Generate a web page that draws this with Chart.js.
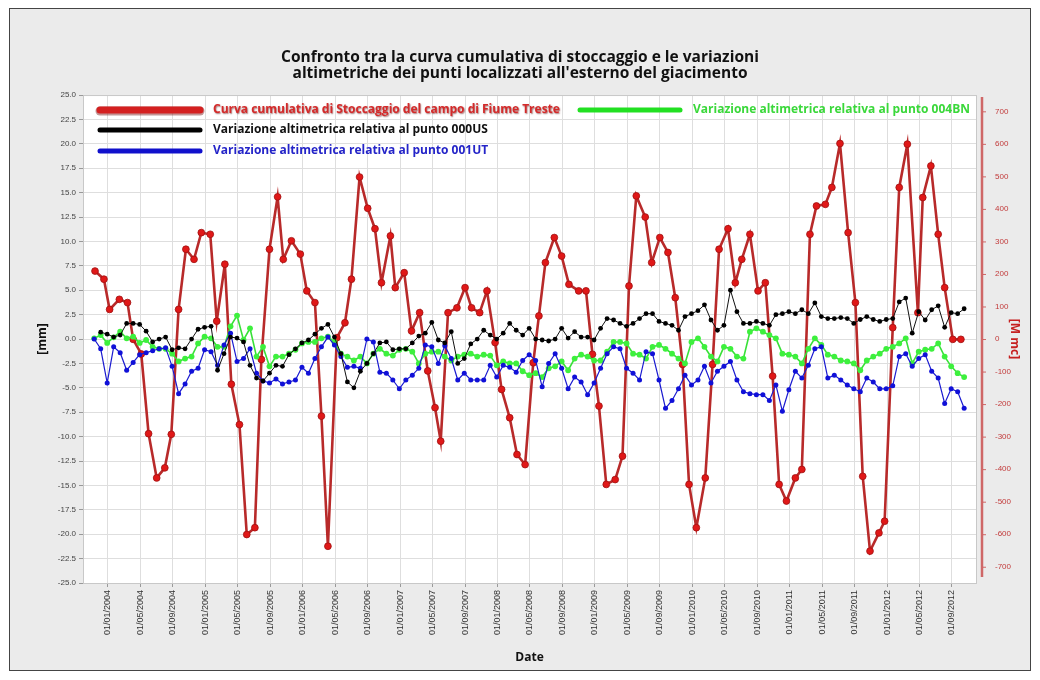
<!DOCTYPE html>
<html>
<head>
<meta charset="utf-8">
<script src="https://cdn.jsdelivr.net/npm/chart.js@4.4.1/dist/chart.umd.min.js"></script>
<style>
html,body{margin:0;padding:0;background:#fff;}
#wrap{width:1040px;height:680px;}
</style>
</head>
<body>
<div id="wrap"><canvas id="c" width="1040" height="680"></canvas></div>
<script>
// ---------- DATA ----------
const chartTitle = [
  "Confronto tra la curva cumulativa di stoccaggio e le variazioni",
  "altimetriche dei punti localizzati all'esterno del giacimento"
];
const seriesNames = [
  "Curva cumulativa di Stoccaggio del campo di Fiume Treste",
  "Variazione altimetrica relativa al punto 000US",
  "Variazione altimetrica relativa al punto 001UT",
  "Variazione altimetrica relativa al punto 004BN"
];
// x positions are months counted from 01/01/2004
const xTickMonths = [0,4,8,12,16,20,24,28,32,36,40,44,48,52,56,60,64,68,72,76,80,84,88,92,96,100,104];
const xTickLabels = ["01/01/2004","01/05/2004","01/09/2004","01/01/2005","01/05/2005","01/09/2005",
  "01/01/2006","01/05/2006","01/09/2006","01/01/2007","01/05/2007","01/09/2007",
  "01/01/2008","01/05/2008","01/09/2008","01/01/2009","01/05/2009","01/09/2009",
  "01/01/2010","01/05/2010","01/09/2010","01/01/2011","01/05/2011","01/09/2011",
  "01/01/2012","01/05/2012","01/09/2012"];
const rightTickValues = [700,600,500,400,300,200,100,0,-100,-200,-300,-400,-500,-600,-700];

// storage curve (M mc, right axis)
const redMonths = [-1.6,-0.5,0.2,1.4,2.4,3.1,4.1,5.0,6.0,7.0,7.8,8.7,9.6,10.6,11.5,12.6,13.4,14.4,15.2,16.2,
  17.1,18.1,18.9,19.9,20.9,21.6,22.6,23.7,24.5,25.5,26.3,27.1,28.2,29.2,30.0,31.0,32.0,32.9,33.7,34.8,
  35.4,36.5,37.4,38.4,39.4,40.3,41.0,41.9,43.0,44.0,44.8,45.8,46.7,47.7,48.5,49.5,50.4,51.4,52.4,53.1,
  53.9,55.0,55.9,56.8,58.0,58.9,59.7,60.5,61.4,62.5,63.4,64.2,65.1,66.2,67.0,68.0,69.0,69.9,70.8,71.6,
  72.5,73.6,74.5,75.3,76.4,77.3,78.1,79.1,80.1,81.0,81.9,82.7,83.6,84.7,85.5,86.5,87.3,88.4,89.2,90.2,
  91.2,92.1,93.0,93.9,95.0,95.7,96.7,97.5,98.5,99.8,100.4,101.4,102.3,103.1,104.1,105.1];
const redValues = [209,184,91,122,112,-1,-46,-291,-427,-396,-293,91,276,245,327,322,55,230,-139,-263,
  -601,-580,-63,276,437,245,302,261,148,112,-237,-637,4,50,184,498,402,339,173,317,
  158,204,25,81,-98,-211,-314,81,96,158,96,81,148,-11,-155,-242,-355,-386,-73,71,
  235,312,255,168,148,148,-47,-206,-447,-432,-360,163,440,375,235,312,266,127,-78,-447,
  -580,-427,-78,276,339,173,245,322,148,173,-114,-447,-498,-427,-401,322,409,414,466,601,
  327,112,-422,-652,-596,-560,35,466,599,81,435,532,322,158,-1,-1];

// levelling survey dates (months from 01/01/2004), shared by the three benchmarks
const surveyMonths = [-1.7,-0.9,-0.1,0.7,1.5,2.3,3.1,3.9,4.7,5.5,6.3,7.1,7.9,8.7,9.5,10.3,11.1,11.9,12.7,13.5,
  14.3,15.1,15.9,16.7,17.5,18.3,19.1,19.9,20.7,21.5,22.3,23.1,23.9,24.7,25.5,26.3,27.1,27.9,28.7,29.5,
  30.3,31.1,31.9,32.7,33.5,34.3,35.1,35.9,36.7,37.5,38.3,39.1,39.9,40.7,41.5,42.3,43.1,43.9,44.7,45.5,
  46.3,47.1,47.9,48.7,49.5,50.3,51.1,51.9,52.7,53.5,54.3,55.1,55.9,56.7,57.5,58.3,59.1,59.9,60.7,61.5,
  62.3,63.1,63.9,64.7,65.5,66.3,67.1,67.9,68.7,69.5,70.3,71.1,71.9,72.7,73.5,74.3,75.1,75.9,76.7,77.5,
  78.3,79.1,79.9,80.7,81.5,82.3,83.1,83.9,84.7,85.5,86.3,87.1,87.9,88.7,89.5,90.3,91.1,91.9,92.7,93.5,
  94.3,95.1,95.9,96.7,97.5,98.3,99.1,99.9,100.7,101.5,102.3,103.1,103.9,104.7,105.5];
const values000US = [null,0.7,0.5,0.2,0.4,1.6,1.6,1.5,0.8,-0.3,
  0.0,0.2,-1.1,-0.9,-1.0,0.0,1.0,1.2,1.3,-3.2,
  -1.5,0.2,0.1,-0.3,-2.7,-4.0,-4.3,-3.5,-2.7,-2.8,
  -1.6,-1.0,-0.4,-0.1,0.5,1.1,1.5,0.2,-1.5,-4.4,
  -5.0,-3.3,-2.5,-1.5,-0.4,-0.3,-1.1,-1.0,-1.0,-0.4,
  0.3,0.6,1.7,-0.1,-0.4,0.75,-2.5,-2.0,-0.5,0.0,
  0.9,0.4,0.0,0.6,1.6,0.9,0.4,1.1,0.0,-0.1,
  -0.2,0.0,1.1,0.1,0.75,0.2,0.2,-0.1,1.1,2.1,
  1.95,1.6,1.3,1.6,2.1,2.6,2.6,1.8,1.6,1.4,
  0.9,2.3,2.6,2.9,3.5,1.95,0.9,1.4,5.0,2.8,
  1.6,1.6,1.8,1.6,1.4,2.5,2.6,2.8,2.6,3.0,
  2.6,3.7,2.3,2.1,2.1,2.2,2.1,1.6,2.0,2.3,
  2.0,1.8,2.0,2.1,3.8,4.2,0.6,2.8,1.95,3.0,
  3.4,1.2,2.7,2.6,3.1];
const values001UT = [0.0,-1.0,-4.5,-0.8,-1.4,-3.2,-2.4,-1.6,-1.4,-1.2,
  -1.0,-0.9,-2.8,-5.6,-4.6,-3.3,-3.0,-1.1,-1.3,-2.7,
  -0.6,0.6,-2.3,-2.0,-1.0,-3.5,-4.3,-4.5,-4.1,-4.6,
  -4.4,-4.2,-2.9,-3.5,-2.0,-0.8,0.2,-0.6,-1.8,-2.9,
  -2.8,-3.0,0.0,-0.3,-3.4,-3.5,-4.2,-5.1,-4.2,-3.7,
  -3.0,-0.6,-0.8,-2.5,-0.7,-2.0,-4.2,-3.5,-4.2,-4.2,
  -4.2,-2.7,-3.9,-2.7,-2.9,-3.4,-2.2,-1.6,-2.2,-4.9,
  -2.5,-1.5,-3.0,-5.1,-3.9,-4.4,-5.7,-4.5,-3.0,-1.5,
  -0.8,-1.0,-3.0,-3.5,-4.2,-1.3,-1.5,-4.2,-7.1,-6.3,
  -5.1,-3.7,-4.7,-4.2,-2.8,-4.5,-3.3,-2.8,-2.3,-4.2,
  -5.4,-5.6,-5.7,-5.7,-6.3,-4.7,-7.4,-5.2,-3.3,-4.0,
  -2.7,-1.0,-0.8,-4.0,-3.7,-4.2,-4.7,-5.1,-5.4,-4.0,
  -4.4,-5.1,-5.1,-4.8,-1.8,-1.5,-2.8,-2.0,-1.6,-3.3,
  -4.0,-6.6,-5.1,-5.4,-7.1];
const values004BN = [0.07,0.4,-0.4,0.17,0.75,0.07,0.24,-0.4,-0.1,-0.8,
  -1.0,-1.0,-1.5,-2.3,-2.0,-1.8,-0.45,0.24,0.07,-0.8,
  -0.8,1.3,2.4,-0.1,1.1,-1.8,-0.8,-2.8,-1.8,-1.8,
  -1.5,-1.1,-0.45,-0.3,-0.3,0.07,0.24,-0.3,-1.5,-1.8,
  -2.2,-1.8,-2.5,-1.5,-1.0,-1.5,-1.7,-1.1,-1.0,-1.3,
  -2.5,-1.5,-1.3,-1.3,-1.8,-2.2,-1.8,-1.6,-1.5,-1.8,
  -1.6,-1.7,-2.7,-2.3,-2.5,-2.5,-3.3,-3.7,-3.5,-3.9,
  -3.0,-2.8,-2.3,-3.2,-2.0,-1.6,-1.8,-2.2,-2.2,-1.3,
  -0.3,-0.3,-0.45,-1.5,-1.6,-2.0,-0.8,-0.6,-1.0,-1.5,
  -2.0,-2.5,-0.3,0.07,-0.8,-1.8,-2.3,-0.8,-1.0,-1.8,
  -2.0,0.75,1.1,0.75,0.4,0.07,-1.5,-1.6,-1.8,-2.5,
  -1.0,0.07,-0.6,-1.6,-1.8,-2.2,-2.3,-2.5,-3.2,-2.2,
  -1.8,-1.5,-1.0,-0.8,-0.45,0.07,-2.5,-1.3,-1.1,-1.0,
  -0.45,-1.8,-2.8,-3.5,-3.9];

// ---------- BUILD ----------
function pairs(xs, ys){
  const out = [];
  for (let i = 0; i < xs.length; i++) if (ys[i] !== null) out.push({x: xs[i], y: ys[i]});
  return out;
}

const FONT = "'Open Sans', 'Liberation Sans', sans-serif";
const TICKFONT = "'Liberation Sans', 'DejaVu Sans', sans-serif";

const bgPlugin = {
  id: 'bg',
  beforeDraw(chart) {
    const {ctx, chartArea: a} = chart;
    ctx.save();
    ctx.fillStyle = '#ffffff';
    ctx.fillRect(0, 0, chart.width, chart.height);
    ctx.fillStyle = '#ebebeb';
    ctx.fillRect(9, 8, 1022, 663);
    ctx.strokeStyle = '#444';
    ctx.lineWidth = 1;
    ctx.strokeRect(9.5, 8.5, 1021, 662);
    ctx.fillStyle = '#ffffff';
    ctx.fillRect(a.left, a.top, a.right - a.left, a.bottom - a.top);
    ctx.restore();
  }
};

const legendSpec = [
  {i: 0, color: '#d42020', text: '#d42a2a', dx: 17, dy: 15, lw: 7, font: 12},
  {i: 1, color: '#000000', text: '#111111', dx: 17, dy: 35, lw: 5, font: 12},
  {i: 2, color: '#1010cc', text: '#2424c8', dx: 17, dy: 56, lw: 5, font: 12},
  {i: 3, color: '#22e022', text: '#3ad83a', dx: 497, dy: 15, lw: 5, font: 12}
];

const overlayPlugin = {
  id: 'overlay',
  afterDraw(chart) {
    const {ctx, chartArea: a} = chart;
    ctx.save();
    // plot border
    ctx.strokeStyle = '#c8c8c8';
    ctx.lineWidth = 1;
    ctx.strokeRect(a.left + 0.5, a.top + 0.5, a.right - a.left, a.bottom - a.top);
    // right (red) axis line with ticks
    const y1 = chart.scales.y1;
    const ax = a.right + 6;
    ctx.strokeStyle = 'rgba(200,70,70,0.8)';
    ctx.lineWidth = 2.5;
    ctx.beginPath();
    ctx.moveTo(ax, a.top + 2);
    ctx.lineTo(ax, a.bottom - 6);
    ctx.stroke();
    ctx.lineWidth = 1;
    rightTickValues.forEach(v => {
      const y = y1.getPixelForValue(v);
      ctx.beginPath();
      ctx.moveTo(ax + 1, y + 0.5);
      ctx.lineTo(ax + 4, y + 0.5);
      ctx.stroke();
    });
    // legend inside plot
    ctx.lineCap = 'round';
    ctx.textBaseline = 'middle';
    legendSpec.forEach(s => {
      const x0 = a.left + s.dx, y = a.top + s.dy;
      if (s.i === 0) {
        ctx.strokeStyle = 'rgba(120,20,20,0.45)';
        ctx.lineWidth = s.lw + 2;
        ctx.beginPath(); ctx.moveTo(x0, y + 1); ctx.lineTo(x0 + 100, y + 1); ctx.stroke();
      }
      ctx.strokeStyle = s.color;
      ctx.lineWidth = s.lw;
      ctx.beginPath(); ctx.moveTo(x0, y); ctx.lineTo(x0 + 100, y); ctx.stroke();
      ctx.font = 'bold ' + s.font + 'px ' + FONT;
      ctx.fillStyle = s.text;
      if (s.i === 0) {
        ctx.shadowColor = 'rgba(90,0,0,0.55)';
        ctx.shadowBlur = 1.5;
        ctx.shadowOffsetX = 0.8;
        ctx.shadowOffsetY = 0.8;
      }
      ctx.fillText(seriesNames[s.i], x0 + 113, y);
      ctx.shadowColor = 'transparent';
      ctx.shadowBlur = 0; ctx.shadowOffsetX = 0; ctx.shadowOffsetY = 0;
    });
    ctx.restore();
  }
};

const chart = new Chart(document.getElementById('c'), {
  type: 'line',
  data: {
    datasets: [
      {
        label: seriesNames[1], data: pairs(surveyMonths, values000US), yAxisID: 'y',
        borderColor: '#111', backgroundColor: '#000', borderWidth: 1,
        pointRadius: 2.4, pointBorderWidth: 0, tension: 0
      },
      {
        label: seriesNames[2], data: pairs(surveyMonths, values001UT), yAxisID: 'y',
        borderColor: '#1a1ad0', backgroundColor: '#1010d8', borderWidth: 1.2,
        pointRadius: 2.5, pointBorderWidth: 0, tension: 0
      },
      {
        label: seriesNames[3], data: pairs(surveyMonths, values004BN), yAxisID: 'y',
        borderColor: '#38e038', backgroundColor: '#3df03d', borderWidth: 1.6,
        pointRadius: 2.9, pointBorderWidth: 0, tension: 0
      },
      {
        label: seriesNames[0], data: pairs(redMonths, redValues), yAxisID: 'y1',
        borderColor: '#b82a2a', backgroundColor: '#e01818', borderWidth: 2.6,
        pointRadius: 3.4, pointBorderWidth: 0.8, pointBorderColor: '#a01010', tension: 0
      }
    ]
  },
  options: {
    responsive: false,
    animation: false,
    events: [],
    layout: {padding: {left: 10, right: 10, top: 0, bottom: 10}},
    plugins: {
      legend: {display: false},
      tooltip: {enabled: false},
      title: {
        display: true,
        text: chartTitle,
        color: '#111',
        font: {family: FONT, size: 15.5, weight: 'bold', lineHeight: 1.05},
        padding: {top: 49, bottom: 13.5}
      }
    },
    scales: {
      x: {
        type: 'linear',
        min: -3.08, max: 106.96,
        afterBuildTicks: s => { s.ticks = xTickMonths.map(v => ({value: v})); },
        afterFit: s => { s.height = 87; },
        ticks: {
          autoSkip: false, minRotation: 90, maxRotation: 90,
          padding: 3, color: '#333',
          font: {family: TICKFONT, size: 9},
          callback: v => xTickLabels[xTickMonths.indexOf(v)]
        },
        grid: {color: '#dedede', tickLength: 4, tickColor: '#999'},
        border: {color: '#8a8a8a', width: 1},
        title: {display: true, text: 'Date', color: '#111',
          font: {family: FONT, size: 12, weight: 'bold'}, padding: {top: 2, bottom: 5}}
      },
      y: {
        position: 'left',
        min: -25, max: 25,
        afterFit: s => { s.width = 73; },
        ticks: {
          stepSize: 2.5, padding: 3, color: '#444',
          font: {family: TICKFONT, size: 8},
          callback: v => v.toFixed(1)
        },
        grid: {color: '#dedede', tickLength: 4, tickColor: '#999'},
        border: {color: '#8a8a8a', width: 1},
        title: {display: true, text: '[mm]', color: '#111',
          font: {family: FONT, size: 12, weight: 'bold'}, padding: {top: 25, bottom: 0}}
      },
      y1: {
        position: 'right',
        min: -750, max: 750,
        afterBuildTicks: s => { s.ticks = rightTickValues.map(v => ({value: v})); },
        afterFit: s => { s.width = 54; },
        ticks: {
          padding: 11, color: '#c23a3a',
          font: {family: TICKFONT, size: 8},
          callback: v => String(v)
        },
        grid: {display: false},
        border: {display: false},
        title: {display: true, text: '[M mc]', color: '#c62020',
          font: {family: FONT, size: 12, weight: 'bold'}, padding: {top: 8, bottom: 0}}
      }
    }
  },
  plugins: [bgPlugin, overlayPlugin]
});
</script>
</body>
</html>
